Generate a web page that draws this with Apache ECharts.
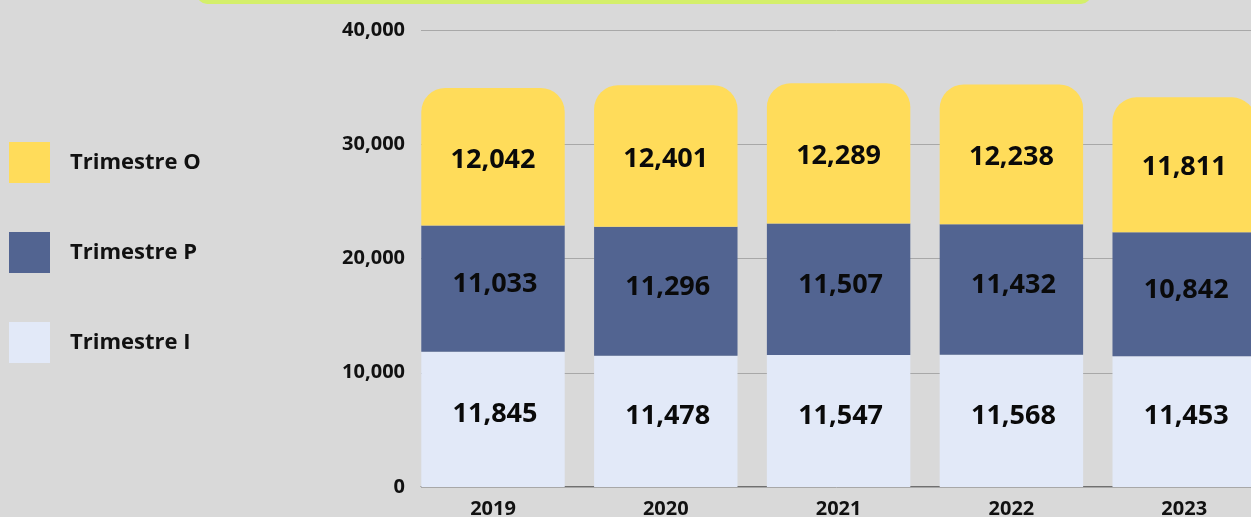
<!DOCTYPE html>
<html>
<head>
<meta charset="utf-8">
<script src="https://cdn.jsdelivr.net/npm/echarts@6/dist/echarts.min.js"></script>
<style>
  html, body { margin: 0; padding: 0; background: #d9d9d9; }
  #chart { width: 1251px; height: 517px; }
</style>
</head>
<body>
<div id="chart"></div>
<script>
'use strict';

// data
var years = ['2019', '2020', '2021', '2022', '2023'];
var trimestreI = [11845, 11478, 11547, 11568, 11453];
var trimestreP = [11033, 11296, 11507, 11432, 10842];
var trimestreO = [12042, 12401, 12289, 12238, 11811];
var yTicks = [0, 10000, 20000, 30000, 40000];

var FONT = 'Open Sans';

function fmt(v) {
    return Number(v).toLocaleString('en-US');
}

var chart = echarts.init(document.getElementById('chart'));

function makeSeries(name, data, color, radius, offset) {
    return {
        name: name,
        type: 'bar',
        stack: 'total',
        xAxisIndex: 0,
        yAxisIndex: 0,
        barCategoryGap: '17%',
        data: data,
        itemStyle: { color: color, borderRadius: radius },
        label: {
            show: true,
            position: 'inside',
            offset: offset,
            color: '#0a0a0a',
            fontFamily: FONT,
            fontWeight: 'bold',
            fontSize: 27,
            formatter: function (p) { return fmt(p.value); }
        },
        emphasis: { disabled: true }
    };
}

var options = {
    backgroundColor: '#d9d9d9',
    animation: false,
    graphic: [{
        type: 'rect',
        shape: { x: 197, y: -40, width: 894, height: 44, r: 10 },
        style: { fill: '#d4ef6b' },
        z: 0
    }],
    legend: {
        orient: 'vertical',
        left: 9,
        top: 142,
        padding: 0,
        icon: 'rect',
        itemWidth: 41,
        itemHeight: 41,
        itemGap: 49,
        data: ['Trimestre O', 'Trimestre P', 'Trimestre I'],
        textStyle: {
            color: '#111',
            fontFamily: FONT,
            fontWeight: 'bold',
            fontSize: 22,
            padding: [0, 0, 0, 15]
        },
        selectedMode: false
    },
    grid: [
        // bars, running past the right edge like the original
        { left: 406.6, width: 864, top: 30, bottom: 30, outerBoundsMode: 'none' },
        // gridlines and value labels
        { left: 421, width: 850, top: 30, bottom: 30, outerBoundsMode: 'none' }
    ],
    xAxis: [{
        type: 'category',
        gridIndex: 0,
        data: years,
        axisLine: { show: false },
        axisTick: { show: false },
        axisLabel: {
            color: '#111',
            fontFamily: FONT,
            fontWeight: 'bold',
            fontSize: 20,
            margin: 12
        }
    }, {
        type: 'value',
        gridIndex: 1,
        min: 0,
        max: 1,
        offset: -1,
        axisLine: { show: true, lineStyle: { color: '#707070', width: 1 } },
        axisTick: { show: false },
        axisLabel: { show: false },
        splitLine: { show: false }
    }],
    yAxis: [{
        type: 'value',
        gridIndex: 0,
        min: yTicks[0],
        max: yTicks[yTicks.length - 1],
        show: false
    }, {
        type: 'value',
        gridIndex: 1,
        min: yTicks[0],
        max: yTicks[yTicks.length - 1],
        interval: yTicks[1] - yTicks[0],
        axisLine: { show: false },
        axisTick: { show: false },
        splitLine: { lineStyle: { color: '#a8a8a8', width: 1 } },
        axisLabel: {
            color: '#111',
            fontFamily: FONT,
            fontWeight: 'bold',
            fontSize: 20,
            margin: 16,
            formatter: fmt
        }
    }],
    series: [
        makeSeries('Trimestre I', trimestreI, '#e2e9f8', 0, [2, -5]),
        makeSeries('Trimestre P', trimestreP, '#526491', 0, [2, -4]),
        makeSeries('Trimestre O', trimestreO, '#ffdc5a', [24, 24, 0, 0], [0, 3])
    ]
};

chart.setOption(options);
</script>
</body>
</html>
